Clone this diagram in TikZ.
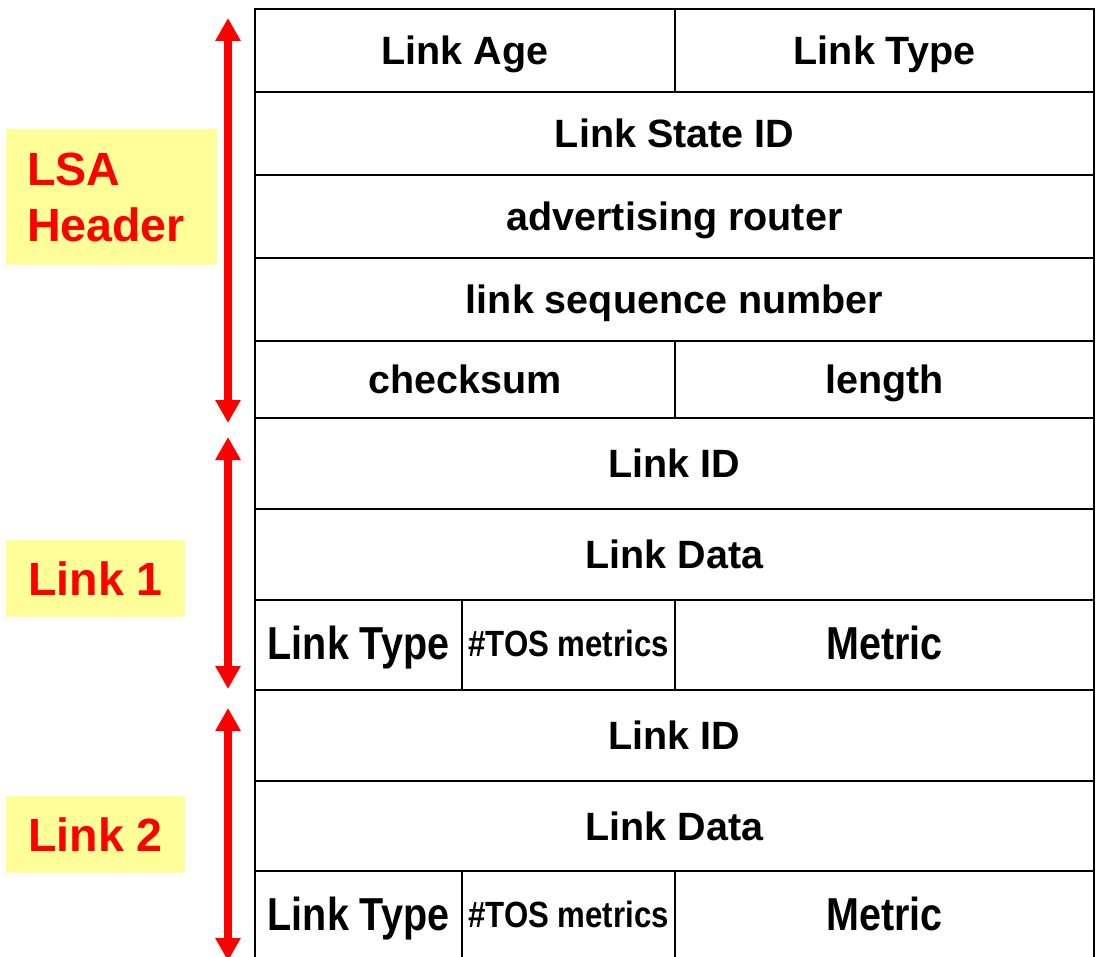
\documentclass[tikz,border=0pt]{standalone}
\usepackage{fontspec}
\setmainfont{Liberation Sans}
\usetikzlibrary{arrows.meta}
\definecolor{lblyellow}{HTML}{FFFF99}
\newcommand{\tallfield}[1]{\scalebox{1}[1.17]{#1}}
\tikzset{%
  cell/.style args={#1/#2}{draw,line width=1.4pt,minimum width=0.5pt*#1,minimum height=0.5pt*#2,
    inner sep=0pt,text height=14.1pt,text depth=0pt,font=\fontsize{19.75}{23}\selectfont\bfseries},
  tos/.style={font=\fontsize{15.6}{18}\selectfont\bfseries,text height=11.2pt},
  lbl/.style args={#1/#2}{fill=lblyellow,text=red,minimum width=0.5pt*#1,minimum height=0.5pt*#2,
    inner sep=0pt,font=\fontsize{23.3}{28}\selectfont\bfseries},
  span/.style={draw=red,line width=4pt,{Triangle[width=12pt,length=11.5pt]}-{Triangle[width=12pt,length=11.5pt]}}
}
\begin{document}
\begin{tikzpicture}[x=0.5pt,y=-0.5pt]
  \useasboundingbox (0,0) rectangle (1097,957);
  % LSA header
  \node[cell=420/83] (age)   at (465,50.5)    {Link Age};
  \node[cell=419/83] (ltype) at (884.5,50.5)  {Link Type};
  \node[cell=839/83] (lsid)  at (674.5,133.5) {Link State ID};
  \node[cell=839/83] (adv)   at (674.5,216.5) {advertising router};
  \node[cell=839/83] (seq)   at (674.5,299.5) {link sequence number};
  \node[cell=420/77] (cksum) at (465,379.5)   {checksum};
  \node[cell=419/77] (len)   at (884.5,379.5) {length};
  % link 1
  \node[cell=839/91] (idA)     at (674.5,463.5) {Link ID};
  \node[cell=839/91] (dataA)   at (674.5,554.5) {Link Data};
  \node[cell=207/90] (typeA)   at (358.5,645)   {\tallfield{Link Type}};
  \node[cell=213/90,tos] (tosA) at (568.5,645)  {\tallfield{\#TOS metrics}};
  \node[cell=419/90] (metricA) at (884.5,645)   {\tallfield{Metric}};
  % link 2
  \node[cell=839/91] (idB)     at (674.5,735.5) {Link ID};
  \node[cell=839/90] (dataB)   at (674.5,826)   {Link Data};
  \node[cell=207/91] (typeB)   at (358.5,916.5) {\tallfield{Link Type}};
  \node[cell=213/91,tos] (tosB) at (568.5,916.5) {\tallfield{\#TOS metrics}};
  \node[cell=419/91] (metricB) at (884.5,916.5) {\tallfield{Metric}};
  % labels
  \node[lbl=211/136,align=left,text width=84.5pt] (hdrlbl) at (111.5,197) {LSA\\Header};
  \node[lbl=179/77] (linkAlbl) at (95.5,578.5) {Link 1};
  \node[lbl=179/77] (linkBlbl) at (95.5,834.5) {Link 2};
  % spans
  \coordinate (hdrtop) at (228,18);
  \coordinate (hdrbot) at (228,423);
  \coordinate (linkAtop) at (228,437);
  \coordinate (linkAbot) at (228,689);
  \coordinate (linkBtop) at (228,708);
  \coordinate (linkBbot) at (228,961);
  \draw[span] (hdrtop) -- (hdrbot);
  \draw[span] (linkAtop) -- (linkAbot);
  \draw[span] (linkBtop) -- (linkBbot);
\end{tikzpicture}
\end{document}
